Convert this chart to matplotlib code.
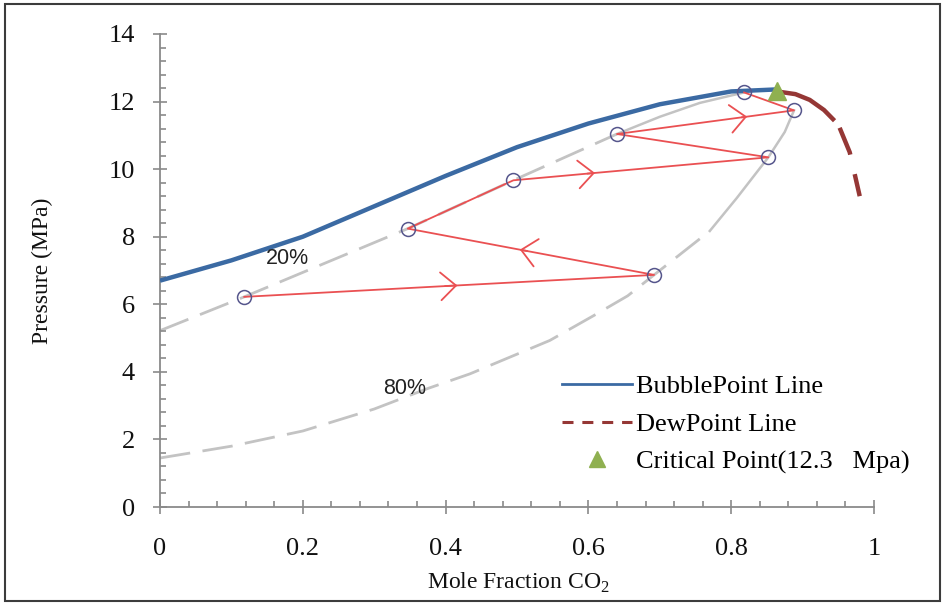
import numpy as np
import matplotlib
matplotlib.use("Agg")
import matplotlib.pyplot as plt
from matplotlib.lines import Line2D
from matplotlib.patches import Rectangle, ArrowStyle
from matplotlib.ticker import MultipleLocator

plt.rcParams['font.family'] = ['Liberation Serif', 'DejaVu Serif']
plt.rcParams['mathtext.fontset'] = 'custom'
plt.rcParams['mathtext.rm'] = 'Liberation Serif'

# --- phase envelope ---
bubble_x = [0.0, 0.1, 0.2, 0.3, 0.4, 0.5, 0.6, 0.7, 0.8, 0.864]
bubble_y = [6.7, 7.3, 8.0, 8.9, 9.8, 10.65, 11.35, 11.92, 12.3, 12.36]

dew_x = [0.864, 0.89, 0.91, 0.93, 0.95, 0.966, 0.98]
dew_y = [12.3, 12.22, 12.05, 11.75, 11.32, 10.5, 9.2]

critical_x = [0.864]
critical_y = [12.3]

# --- quality lines (20 % and 80 %) ---
q20_dash_x = [0.0, 0.118, 0.347, 0.495, 0.640]
q20_dash_y = [5.22, 6.22, 8.24, 9.67, 11.04]
q20_solid_x = [0.640, 0.70, 0.756, 0.818]
q20_solid_y = [11.04, 11.55, 11.96, 12.27]

q80_dash_x = [0.0, 0.1, 0.2, 0.3, 0.374, 0.434, 0.546, 0.607, 0.655, 0.692, 0.77]
q80_dash_y = [1.45, 1.8, 2.25, 2.9, 3.5, 3.94, 4.93, 5.66, 6.25, 6.87, 8.17]
q80_solid_x = [0.77, 0.808, 0.852, 0.875, 0.888]
q80_solid_y = [8.17, 9.15, 10.35, 11.1, 11.74]

# --- multiple-contact path ---
path_x = [0.118, 0.692, 0.347, 0.495, 0.852, 0.640, 0.888, 0.818]
path_y = [6.22, 6.87, 8.24, 9.67, 10.35, 11.04, 11.74, 12.27]
arrow_seg = [0, 1, 3, 5]
arrow_frac = [0.52, 0.545, 0.32, 0.735]

x_ticks = [0, 0.2, 0.4, 0.6, 0.8, 1.0]
x_tick_labels = ['0', '0.2', '0.4', '0.6', '0.8', '1']
y_ticks = [0, 2, 4, 6, 8, 10, 12, 14]

BLUE = '#3b6aa3'
DEW = '#953735'
GRAY = '#c3c3c3'
RED = '#ea5052'
CIRCLE = '#56568c'
GREEN = '#8fb050'
AXIS = '#8a8a8a'

W, H = 945, 605
fig = plt.figure(figsize=(W / 100, H / 100), dpi=100)
ax = fig.add_axes([160 / W, 1 - 507 / H, 714 / W, 473 / H])

# quality lines
ax.plot(q20_dash_x, q20_dash_y, color=GRAY, lw=2.0, linestyle=(0, (11, 4.5)), zorder=1)
ax.plot(q20_solid_x, q20_solid_y, color=GRAY, lw=1.8, zorder=1)
ax.plot(q80_dash_x, q80_dash_y, color=GRAY, lw=2.0, linestyle=(0, (11, 4.5)), zorder=1)
ax.plot(q80_solid_x, q80_solid_y, color=GRAY, lw=1.8, zorder=1)

# envelope
ax.plot(bubble_x, bubble_y, color=BLUE, lw=3.2, solid_capstyle='butt', zorder=3)
ax.plot(dew_x, dew_y, color=DEW, lw=3.2, linestyle=(0, (15, 2, 6.5, 4.5, 6, 4.5)),
        dash_capstyle='butt', zorder=3)

# contact path with direction chevrons
ax.plot(path_x, path_y, color=RED, lw=1.3, zorder=4)
px = np.array(path_x)
py = np.array(path_y)
for seg, frac in zip(arrow_seg, arrow_frac):
    x0, y0 = px[seg], py[seg]
    x1, y1 = px[seg + 1], py[seg + 1]
    hx = x0 + frac * (x1 - x0)
    hy = y0 + frac * (y1 - y0)
    tx = x0 + (frac - 0.03) * (x1 - x0)
    ty = y0 + (frac - 0.03) * (y1 - y0)
    ax.annotate('', xy=(hx, hy), xytext=(tx, ty),
                arrowprops=dict(arrowstyle=ArrowStyle('->', head_length=11, head_width=10),
                                mutation_scale=1, color=RED, lw=1.3,
                                shrinkA=0, shrinkB=0), zorder=4)
ax.plot(path_x, path_y, linestyle='none', marker='o', ms=10, mfc='none',
        mec=CIRCLE, mew=1.1, zorder=5)

ax.plot(critical_x, critical_y, linestyle='none', marker='^', ms=13,
        color=GREEN, zorder=6)

# quality labels
ax.text(0.179, 7.35, '20%', family='Liberation Sans', fontsize=15.5,
        ha='center', va='center', color='#222222')
ax.text(0.343, 3.51, '80%', family='Liberation Sans', fontsize=15.5,
        ha='center', va='center', color='#222222')

# axes styling
ax.set_xlim(0, 1)
ax.set_ylim(0, 14)
for s in ('top', 'right'):
    ax.spines[s].set_visible(False)
for s in ('left', 'bottom'):
    ax.spines[s].set_color(AXIS)
    ax.spines[s].set_linewidth(1.3)
ax.set_xticks(x_ticks)
ax.set_xticklabels(x_tick_labels)
ax.set_yticks(y_ticks)
ax.xaxis.set_minor_locator(MultipleLocator(0.04))
ax.yaxis.set_minor_locator(MultipleLocator(0.4))
ax.tick_params(which='major', direction='inout', length=10, width=1.2, color=AXIS,
               labelsize=19, labelcolor='#111111')
ax.tick_params(axis='y', which='major', pad=13)
ax.tick_params(axis='x', which='major', pad=17)
ax.tick_params(which='minor', direction='in', length=4.5, width=1.2, color=AXIS)

fig.text(42 / W, 1 - 271 / H, 'Pressure (MPa)', rotation=90, ha='center',
         va='center', fontsize=17, color='#111111')
fig.text(518 / W, 1 - 583 / H, 'Mole Fraction CO$_2$', ha='center',
         va='center', fontsize=17, color='#111111')

handles = [
    Line2D([], [], color=BLUE, lw=2.0),
    Line2D([], [], color=DEW, lw=2.2, linestyle=(0, (3.6, 2.9)), dash_capstyle='butt'),
    Line2D([], [], color=GREEN, marker='^', linestyle='none', ms=11),
]
labels = ['BubblePoint Line', 'DewPoint Line', 'Critical Point(12.3   Mpa)']
fig.legend(handles, labels, loc='upper left',
           bbox_to_anchor=(562 / W, 1 - 375 / H), bbox_transform=fig.transFigure,
           frameon=False, fontsize=19, handlelength=2.65, handletextpad=0.15,
           labelspacing=0.53, borderpad=0, borderaxespad=0)

fig.patches.append(Rectangle((5 / W, 4 / H), 935 / W, 597 / H, transform=fig.transFigure,
                             fill=False, edgecolor='#3c3c3c', lw=1.5))

fig.savefig('out.png', dpi=100)
